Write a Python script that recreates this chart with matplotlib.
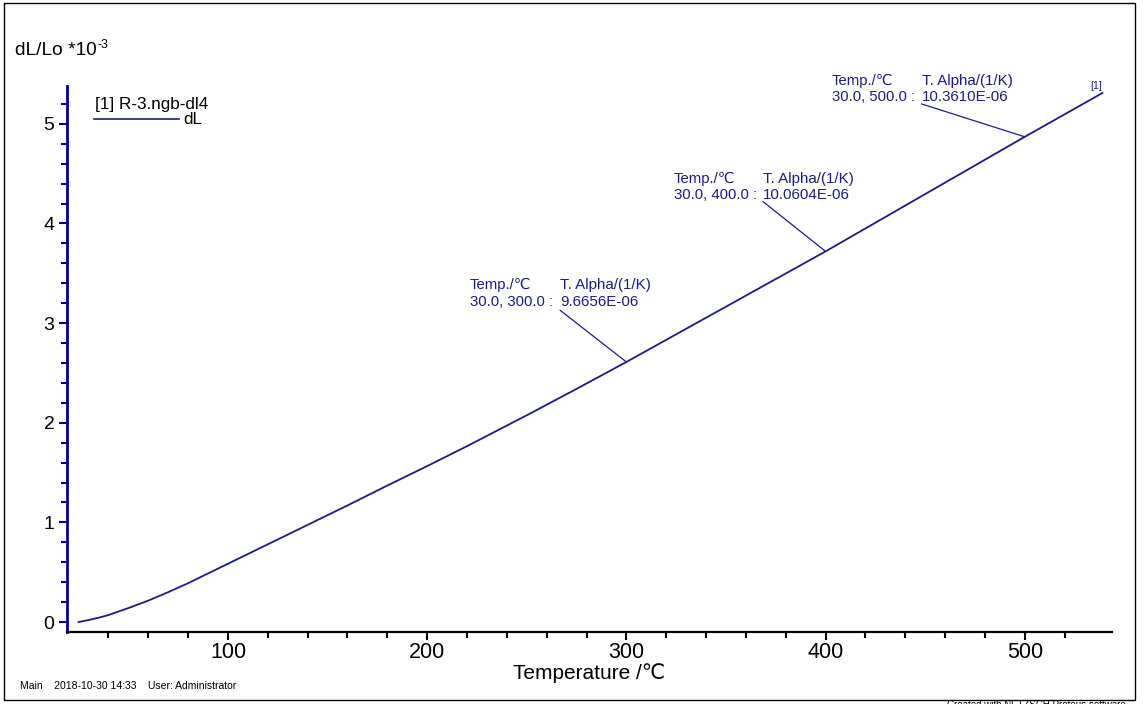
import matplotlib.pyplot as plt
from matplotlib.ticker import FixedLocator
from matplotlib.lines import Line2D
from matplotlib.patches import Rectangle

plt.rcParams['font.family'] = ['Liberation Sans', 'DejaVu Sans']

# dilatometer curve
temp = [25, 30, 35, 40, 50, 60, 70, 80, 100, 120, 140, 160, 180, 200,
        220, 250, 275, 300, 350, 400, 450, 500, 539]
dl = [0.0, 0.02, 0.043, 0.07, 0.14, 0.215, 0.30, 0.39, 0.585, 0.78,
      0.975, 1.17, 1.37, 1.565, 1.765, 2.075, 2.34, 2.61, 3.165, 3.72,
      4.295, 4.87, 5.31]

# mean expansion coefficients (30 C to T)
alpha_end = [300, 400, 500]
alpha_val = ['9.6656E-06', '10.0604E-06', '10.3610E-06']
# where each label block sits (temp of left edge, temp/value of leader start)
label_x = [221.5, 323.9, 403.2]
label_top = [3.45, 4.52, 5.50]
leader_x = [266.7, 368.6, 448.2]
leader_y = [3.13, 4.22, 5.20]

navy = '#1c1c82'
axis_blue = '#00008b'

fig = plt.figure(figsize=(11.44, 7.04), dpi=100)
ax = fig.add_axes([67/1144, 72/704, (1112-67)/1144, (632-86)/704])

ax.plot(temp, dl, color=navy, lw=1.3)

ax.set_xlim(19.2, 543.8)
ax.set_ylim(-0.10, 5.38)

ax.spines['top'].set_visible(False)
ax.spines['right'].set_visible(False)
ax.spines['left'].set_color(axis_blue)
ax.spines['left'].set_linewidth(2.0)
ax.spines['bottom'].set_color('black')
ax.spines['bottom'].set_linewidth(1.6)

ax.set_xticks([100, 200, 300, 400, 500])
ax.xaxis.set_minor_locator(FixedLocator(list(range(40, 540, 20))))
ax.set_yticks([0, 1, 2, 3, 4, 5])
ax.yaxis.set_minor_locator(FixedLocator([i * 0.2 for i in range(1, 27)]))

ax.tick_params(axis='x', which='major', length=6, width=1.5, labelsize=15.5,
               pad=1, color='black')
ax.tick_params(axis='x', which='minor', length=4, width=1.5, color='black')
ax.tick_params(axis='y', which='major', length=6, width=1.5, labelsize=14,
               pad=3, color=axis_blue)
ax.tick_params(axis='y', which='minor', length=4, width=1.5, color=axis_blue)

ax.set_xlabel('Temperature /℃', fontsize=15, labelpad=0.5)

for i in range(len(alpha_end)):
    t_end = alpha_end[i]
    v_end = dl[temp.index(t_end)]
    ax.annotate('', xy=(t_end, v_end), xytext=(leader_x[i], leader_y[i]),
                arrowprops=dict(arrowstyle='-', color=navy, lw=0.9,
                                shrinkA=0, shrinkB=0))
    ax.text(label_x[i], label_top[i], 'Temp./℃', color=navy, fontsize=10.7,
            va='top', ha='left')
    ax.text(label_x[i], label_top[i] - 0.165, '30.0, %.1f :' % t_end,
            color=navy, fontsize=10.7, va='top', ha='left')
    ax.text(leader_x[i], label_top[i], 'T. Alpha/(1/K)', color=navy,
            fontsize=10.9, va='top', ha='left')
    ax.text(leader_x[i], label_top[i] - 0.165, alpha_val[i], color=navy,
            fontsize=10.9, va='top', ha='left')

ax.text(temp[-1], dl[-1] + 0.02, '[1]', color=navy, fontsize=7.5,
        ha='right', va='bottom')

# axis title at the top left
fig.text(15/1144, 1 - 55/704, 'dL/Lo *10', fontsize=13.8, ha='left',
         va='baseline')
fig.text(98/1144, 1 - 48/704, '-3', fontsize=9, ha='left', va='baseline')

# legend drawn by hand like the instrument software
fig.text(95/1144, 1 - 109/704, '[1] R-3.ngb-dl4', fontsize=12.3,
         ha='left', va='baseline')
fig.add_artist(Line2D([94/1144, 179/1144], [1 - 119/704, 1 - 119/704],
                      color=navy, lw=1.2))
fig.text(183/1144, 1 - 124/704, 'dL', fontsize=12.3, ha='left',
         va='baseline')

# footer
fig.text(20/1144, 1 - 689/704, 'Main    2018-10-30 14:33    User: Administrator',
         fontsize=7.5, ha='left', va='baseline')
fig.text(947/1144, 1 - 700/704, 'Created with NETZSCH Proteus software',
         fontsize=7, ha='left', va='top')

fig.add_artist(Rectangle((4/1144, 4/704), 1131/1144, 697/704,
                         fill=False, edgecolor='black', lw=1.0,
                         transform=fig.transFigure))

fig.savefig('out.png', dpi=100)
